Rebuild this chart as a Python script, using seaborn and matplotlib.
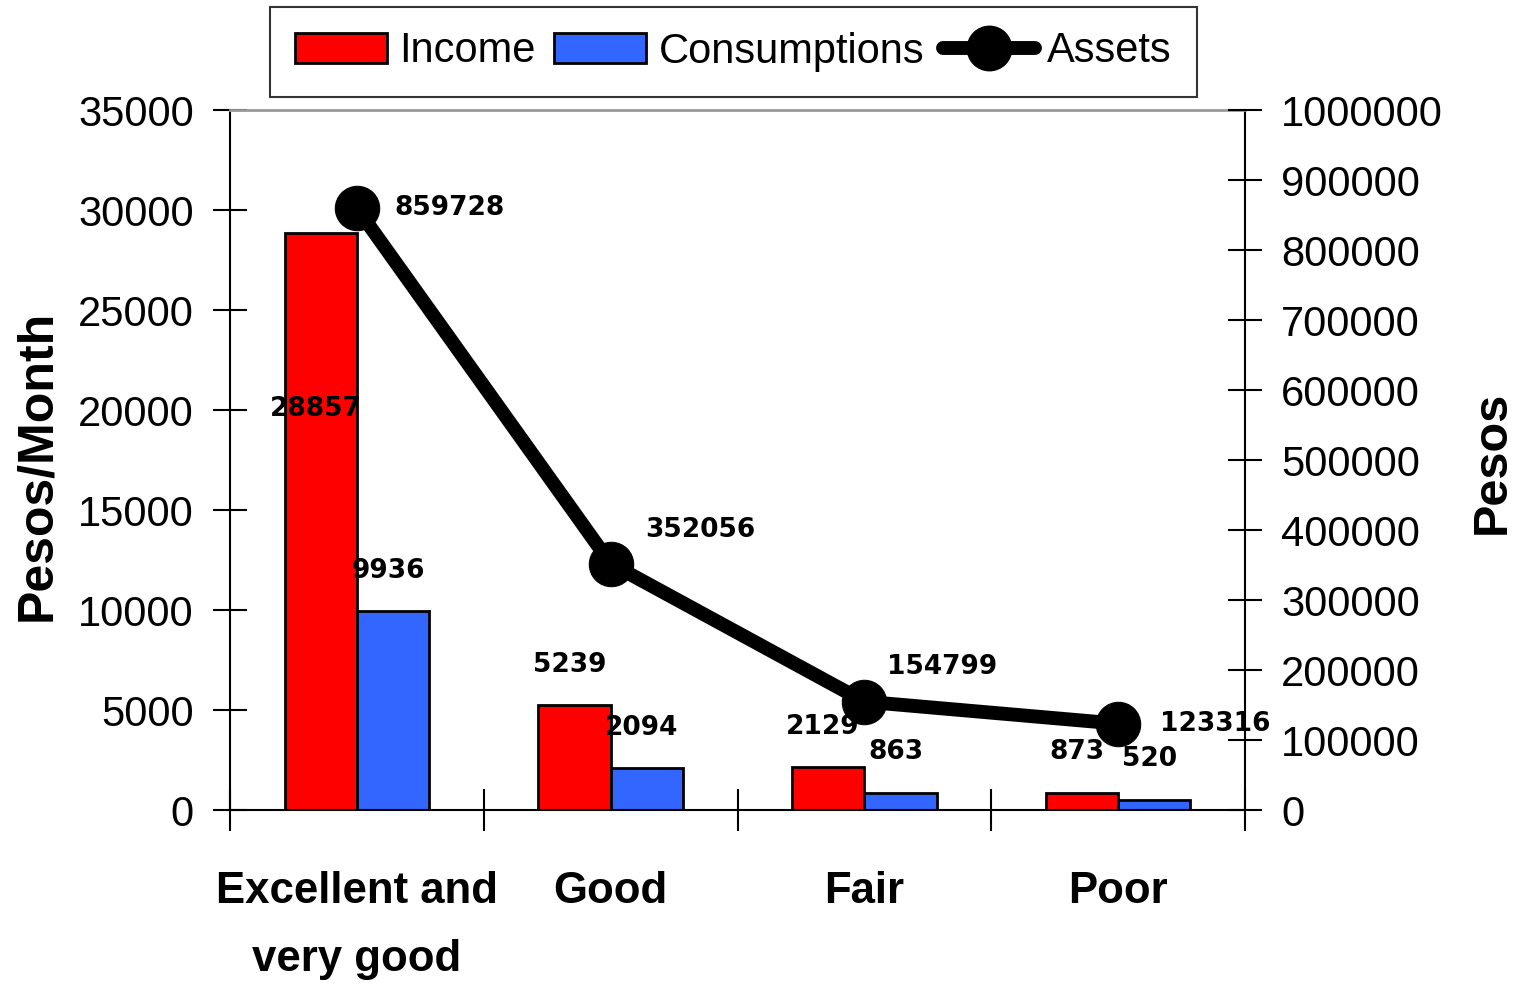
import numpy as np
import pandas as pd
import matplotlib
matplotlib.use("Agg")
import matplotlib.pyplot as plt
import seaborn as sns
from matplotlib.patches import Patch
from matplotlib.lines import Line2D

categories = ["Excellent and\nvery good", "Good", "Fair", "Poor"]
income = [28857, 5239, 2129, 873]
consumptions = [9936, 2094, 863, 520]
assets = [859728, 352056, 154799, 123316]
left_ticks = [0, 5000, 10000, 15000, 20000, 25000, 30000, 35000]
right_ticks = [0, 100000, 200000, 300000, 400000, 500000, 600000, 700000, 800000, 900000, 1000000]

sns.set_style("white")
SANS = ["Liberation Sans", "DejaVu Sans"]
plt.rcParams["font.family"] = SANS
plt.rcParams["text.color"] = "black"
plt.rcParams["axes.labelcolor"] = "black"
plt.rcParams["xtick.color"] = "black"
plt.rcParams["ytick.color"] = "black"

df = pd.DataFrame({
    "cat": categories * 2,
    "val": income + consumptions,
    "series": ["Income"] * 4 + ["Consumptions"] * 4,
})

fig = plt.figure(figsize=(15.17, 9.86), dpi=100)
ax = fig.add_axes([230 / 1517, 1 - 810 / 986, 1015 / 1517, 700 / 986])
sns.barplot(data=df, x="cat", y="val", hue="series", order=categories,
            hue_order=["Income", "Consumptions"],
            palette={"Income": "#FF0000", "Consumptions": "#3366FF"},
            saturation=1, width=0.57, gap=0, edgecolor="black", linewidth=2,
            errorbar=None, ax=ax, legend=False, zorder=2)
ax.set_xlim(-0.5, 3.5)
ax.set_ylim(0, 35000)
ax.set_yticks(left_ticks)
ax.set_yticklabels([str(t) for t in left_ticks], fontsize=30)
ax.tick_params(axis="y", direction="inout", length=24, width=1.5, pad=14, left=True)

# x ticks: boundaries as major ticks, labels at centers
ax.set_xticks(np.arange(len(categories) + 1) - 0.5)
ax.set_xticklabels([""] * (len(categories) + 1))
ax.set_xticks(np.arange(len(categories)), minor=True)
ax.set_xticklabels(categories, minor=True, fontsize=31.5, fontweight="bold",
                   linespacing=1.85)
ax.tick_params(axis="x", which="major", direction="inout", length=30, width=1.5, bottom=True)
ax.tick_params(axis="x", which="minor", length=0, pad=44)
ax.set_xlabel("")
ax.set_ylabel("Pesos/Month", fontsize=36, fontweight="bold")
ax.yaxis.set_label_coords(-0.1675, 0.493)

for s in ["left", "bottom", "right"]:
    ax.spines[s].set_color("black")
    ax.spines[s].set_linewidth(1.5)
ax.spines["top"].set_color("#999999")
ax.spines["top"].set_linewidth(2)

# bar value labels
LABEL_FONT = ["DejaVu Sans"]
nb = len(categories)
for i, p in enumerate(ax.patches[: 2 * nb]):
    val = p.get_height()
    if val <= 0:
        continue
    xc = p.get_x() + p.get_width() / 2
    dy = 29
    if i == 0:
        dy = -127
    ax.annotate(f"{int(round(val))}", (xc - 0.02, val), xytext=(0, dy),
                textcoords="offset points", ha="center", va="center",
                fontsize=19, fontweight="bold", family=LABEL_FONT, zorder=5)

ax2 = ax.twinx()
sns.lineplot(x=np.arange(len(categories)), y=assets, ax=ax2, color="black",
             linewidth=10, marker="o", markersize=32, markeredgecolor="black", zorder=3)
ax2.set_ylim(0, 1000000)
ax2.set_yticks(right_ticks)
ax2.set_yticklabels([str(t) for t in right_ticks], fontsize=30)
ax2.tick_params(axis="y", direction="inout", length=24, width=1.5, pad=14, right=True)
ax2.set_ylabel("Pesos", fontsize=35, fontweight="bold")
ax2.yaxis.set_label_coords(1.2217, 0.497)
ax2.set_xlim(-0.5, 3.5)
for s in ax2.spines.values():
    s.set_visible(False)

offsets = [(27, 0), (25, 24), (16, 25), (30, 0)]
for i, v in enumerate(assets):
    ax2.annotate(f"{v}", (i, v), xytext=offsets[i], textcoords="offset points",
                 ha="left", va="center", fontsize=19, fontweight="bold", family=LABEL_FONT)

handles = [
    Patch(facecolor="#FF0000", edgecolor="black", linewidth=2),
    Patch(facecolor="#3366FF", edgecolor="black", linewidth=2),
    Line2D([0], [0], color="black", linewidth=10, marker="o", markersize=32),
]
leg = fig.legend(handles, ["Income", "Consumptions", "Assets"], loc="center",
                 bbox_to_anchor=(733.5 / 1517, 1 - 51.5 / 986), ncol=3,
                 fontsize=30, frameon=True, fancybox=False, edgecolor="black",
                 handlelength=2.2, handleheight=0.7, handletextpad=0.3,
                 columnspacing=0.45, borderpad=0.6, borderaxespad=0)
leg.get_frame().set_linewidth(1.5)

fig.savefig("out.png", dpi=100)
